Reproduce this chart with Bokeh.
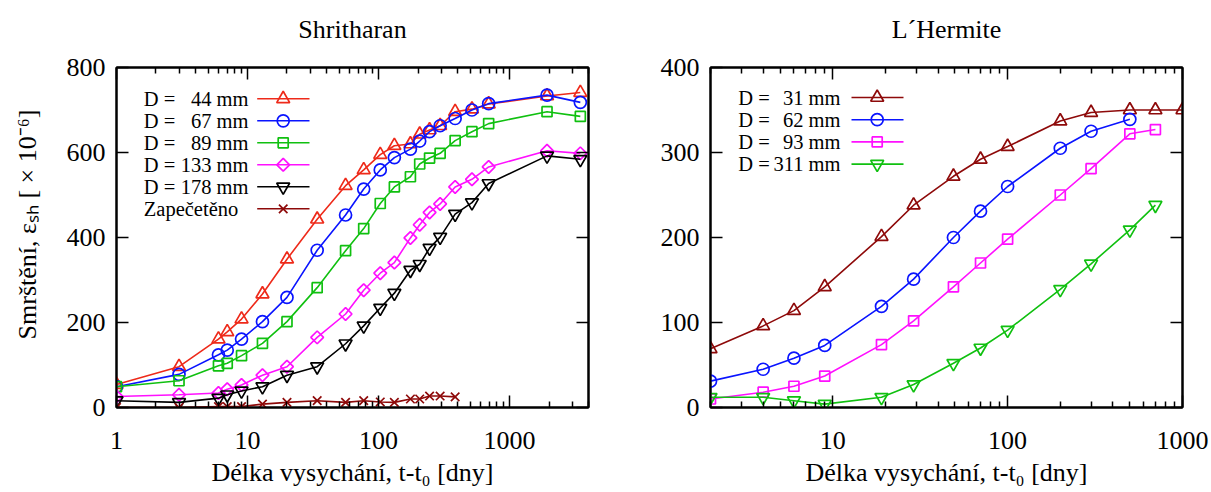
import math
import numpy as np
from bokeh.plotting import figure
from bokeh.layouts import row
from bokeh.models import Label, FixedTicker, LogAxis, LinearAxis, Range1d, CustomJSTickFormatter
from bokeh.embed import file_html
from bokeh.resources import INLINE

FONT = "Liberation Serif"

# ---------------- data: Shritharan ----------------
t_shr = [1, 3, 6, 7, 9, 13, 20, 34, 56, 77, 103, 132, 175, 206, 245, 295, 384, 516, 692, 1930, 3465]
shr_44 = [54, 96, 161, 178, 208, 267, 349, 443, 522, 559, 595, 616, 620, 643, 653, 663, 696, 702, 714, 733, 741]
shr_67 = [49, 78, 124, 135, 161, 202, 259, 370, 453, 514, 559, 588, 608, 627, 649, 663, 680, 700, 715, 735, 718]
shr_89 = [49, 63, 98, 104, 122, 151, 202, 282, 369, 421, 480, 519, 543, 573, 587, 598, 628, 649, 668, 696, 685]
shr_133 = [26, 30, 34, 43, 53, 76, 96, 165, 220, 276, 316, 341, 399, 430, 459, 479, 519, 537, 566, 604, 598]
shr_178 = [16, 12, 22, 30, 39, 49, 76, 96, 150, 192, 234, 269, 323, 337, 375, 401, 455, 482, 527, 592, 584]
t_sealed = [1, 3, 6, 7, 9, 13, 20, 34, 56, 77, 103, 132, 175, 206, 245, 295, 384]
shr_sealed = [0, 0, 2, 2, 2, 8, 12, 16, 12, 16, 13, 12, 20, 20, 27, 27, 25]
shr_labels = ["44 mm", "67 mm", "89 mm", "133 mm", "178 mm", "Zapečetěno"]

# ---------------- data: L'Hermite ----------------
t_lh_31 = [2, 4, 6, 9, 19, 29, 49, 70, 100, 200, 300, 500, 700, 1000]
lh_31 = [69, 96, 114, 142, 201, 238, 272, 292, 307, 337, 347, 350, 350, 350]
t_lh_62 = [2, 4, 6, 9, 19, 29, 49, 70, 100, 200, 300, 500]
lh_62 = [31, 45, 58, 73, 119, 151, 200, 231, 260, 305, 325, 339]
t_lh_93 = [2, 4, 6, 9, 19, 29, 49, 70, 100, 200, 300, 500, 700]
lh_93 = [10, 18, 25, 37, 74, 102, 142, 170, 198, 250, 281, 322, 327]
t_lh_311 = [2, 4, 6, 9, 19, 29, 49, 70, 100, 200, 300, 500, 700]
lh_311 = [12, 12, 8, 4, 12, 27, 52, 70, 91, 139, 169, 209, 238]
lh_labels = ["31 mm", "62 mm", "93 mm", "311 mm"]

x_ticks_left = [1, 10, 100, 1000]
x_ticks_right = [10, 100, 1000]
y_ticks_left = [0, 200, 400, 600, 800]
y_ticks_right = [0, 100, 200, 300, 400]

title_left = "Shritharan"
title_right = "L´Hermite"
x_title = "Délka vysychání, t-t₀ [dny]"
y_title = "Smrštění, εₛₕ [ × 10⁻⁶]"

minor_log = [m * 10 ** e for e in range(0, 4) for m in range(2, 10)]

RED = "#ee2a1a"
BLUE = "#0a14ff"
GREEN = "#10c010"
MAG = "#ff10ff"
BLACK = "#000000"
DRED = "#8e0a0a"

left_series = [
    (t_shr, shr_44, RED, "triangle", 13, 0.0),
    (t_shr, shr_67, BLUE, "circle", 12, 0.0),
    (t_shr, shr_89, GREEN, "square", 10, 0.0),
    (t_shr, shr_133, MAG, "square", 9, math.pi / 4),
    (t_shr, shr_178, BLACK, "inverted_triangle", 13, 0.0),
    (t_sealed, shr_sealed, DRED, "x", 12, 0.0),
]
right_series = [
    (t_lh_31, lh_31, DRED, "triangle", 13, 0.0),
    (t_lh_62, lh_62, BLUE, "circle", 12, 0.0),
    (t_lh_93, lh_93, MAG, "square", 10, 0.0),
    (t_lh_311, lh_311, GREEN, "inverted_triangle", 13, 0.0),
]


def style_axis(ax, ticks, minor, show_labels, standoff):
    ax.ticker = FixedTicker(ticks=ticks, minor_ticks=minor)
    ax.major_tick_in = 12
    ax.major_tick_out = 0
    ax.minor_tick_in = 6
    ax.minor_tick_out = 0
    ax.axis_line_width = 2
    ax.axis_line_color = "black"
    ax.major_tick_line_width = 1.5
    ax.minor_tick_line_width = 1.5
    ax.major_tick_line_color = "black"
    ax.minor_tick_line_color = "black" if minor else None
    ax.major_label_text_font = FONT
    ax.major_label_text_color = "black"
    ax.major_label_standoff = standoff
    if show_labels:
        ax.major_label_text_font_size = "26px"
        ax.formatter = CustomJSTickFormatter(code="return tick.toFixed(0)")
    else:
        ax.major_label_text_font_size = "1px"
        ax.formatter = CustomJSTickFormatter(code="return ''")
    ax.axis_label_text_font = FONT
    ax.axis_label_text_font_size = "26px"
    ax.axis_label_text_font_style = "normal"
    ax.axis_label_text_color = "black"


def make_fig(width, bl, br, xr, yr, xt, yt, title):
    p = figure(width=width, height=492, x_axis_type="log",
               x_range=Range1d(*xr), y_range=Range1d(*yr),
               output_backend="svg", toolbar_location=None,
               min_border_left=bl, min_border_right=br,
               min_border_top=67, min_border_bottom=85)
    p.title = None
    p.grid.visible = False
    p.outline_line_color = "black"
    p.outline_line_width = 2
    p.background_fill_color = "white"
    p.border_fill_color = "white"
    bottom = p.below[0]
    left = p.left[0]
    style_axis(bottom, xt, minor_log, True, 24)
    style_axis(left, yt, [], True, 11)
    bottom.axis_label = x_title
    bottom.axis_label_standoff = 6
    # mirrored top axis; its axis label carries the panel title
    top = LogAxis()
    style_axis(top, xt, minor_log, False, 0)
    top.axis_label = title
    top.axis_label_standoff = 24
    p.add_layout(top, "above")
    rgt = LinearAxis()
    style_axis(rgt, yt, [], False, 0)
    p.add_layout(rgt, "right")
    return p, left


def lab(p, x, y, text, size="20.5px", align="left", baseline="middle"):
    p.add_layout(Label(x=x, y=y, x_units="screen", y_units="screen", text=text,
                       text_font=FONT, text_font_size=size, text_color="black",
                       text_align=align, text_baseline=baseline))


def draw(p, series):
    for t, v, col, mk, sz, ang in series:
        p.line(t, v, line_color=col, line_width=1.6)
        p.scatter(t, v, marker=mk, size=sz, angle=ang, line_color=col,
                  fill_color=None, line_width=1.7)


# geometry of the frames (page pixels)
FT, FB = 67, 407
L0, L1 = 116, 588
R0, R1 = 710, 1182

pL, yaxL = make_fig(605, L0, 605 - L1, (1, 4000), (0, 800), x_ticks_left, y_ticks_left, title_left)
pR, _ = make_fig(606, R0 - 605, 606 - (R1 - 605), (2, 1000), (0, 400), x_ticks_right, y_ticks_right, title_right)

# leading no-break spaces shift the centred rotated label upwards, as in the reference
yaxL.axis_label = "\u00a0" * 4 + y_title
yaxL.axis_label_standoff = 22

draw(pL, left_series)
draw(pR, right_series)


def legend(p, series, labels, x_left, x_right, line_a, line_b, mark_x, row0, step, px2x, px2y):
    for i, (s, name) in enumerate(zip(series, labels)):
        _, _, col, mk, sz, ang = s
        Y = row0 + step * i
        sy = FB - Y
        if name.endswith("mm"):
            lab(p, x_left, sy, "D =")
            lab(p, x_right, sy, name, align="right")
        else:
            lab(p, x_left, sy, name)
        p.line([px2x(line_a), px2x(line_b)], [px2y(Y), px2y(Y)], line_color=col, line_width=1.6)
        p.scatter([px2x(mark_x)], [px2y(Y)], marker=mk, size=sz, angle=ang,
                  line_color=col, fill_color=None, line_width=1.7)


def lx(X):
    return 10 ** ((X - L0) / (L1 - L0) * math.log10(4000))


def ly(Y):
    return (FB - Y) / (FB - FT) * 800


def rx(X):
    return 10 ** (math.log10(2) + (X - R0) / (R1 - R0) * math.log10(500))


def ry(Y):
    return (FB - Y) / (FB - FT) * 400


legend(pL, left_series, shr_labels, 143.3 - L0, 248 - L0, 256.7, 309, 282.7, 98.3, 22.0, lx, ly)
legend(pR, right_series, lh_labels, 737.7 - R0, 840 - R0, 851, 903, 876.7, 97.0, 22.2, rx, ry)

layout = row(pL, pR)
open("out.html", "w").write(file_html(layout, INLINE))
